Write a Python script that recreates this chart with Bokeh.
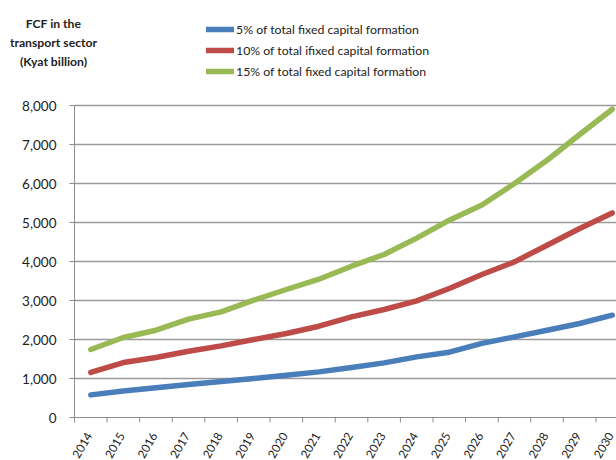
from bokeh.plotting import figure
from bokeh.models import Range1d, Legend, LegendItem, Label, ColumnDataSource
from bokeh.core.properties import value
from bokeh.embed import file_html
from bokeh.resources import INLINE
import math

# Fixed capital formation in the transport sector, Kyat billion
years = ["2014", "2015", "2016", "2017", "2018", "2019", "2020", "2021", "2022",
         "2023", "2024", "2025", "2026", "2027", "2028", "2029", "2030"]
share_5 = [580, 682, 760, 846, 925, 1000, 1085, 1170, 1282, 1400, 1554, 1674,
           1900, 2067, 2238, 2410, 2623]
share_10 = [1154, 1410, 1538, 1700, 1836, 2000, 2154, 2341, 2580, 2769, 2991,
            3308, 3667, 3990, 4418, 4846, 5246]
share_15 = [1743, 2051, 2238, 2521, 2708, 3008, 3282, 3546, 3880, 4180, 4600,
            5060, 5450, 6000, 6597, 7256, 7905]
series_names = ["5% of total fixed capital formation",
                "10% of total ifixed capital formation",
                "15% of total fixed capital formation"]
y_ticks = [0, 1000, 2000, 3000, 4000, 5000, 6000, 7000, 8000]
title_lines = ["FCF in the", "transport sector", "(Kyat billion)"]

colors = ["#4A7EBB", "#BE4B48", "#98B954"]
FONT = "Lato"
GRAY = "#8C8C8C"
TEXT = "#222222"

xs = list(range(len(years)))
X0 = -0.5                # left edge of the plotting area (data units)
X1 = 16.13               # right edge visible in the canvas
PX = 1 / 32.6            # one pixel in x data units
PY = 1000 / 39.0         # one pixel in y data units
Y_TOP = 8000

# The frame spans the whole canvas; both axes, their ticks and the grid are
# drawn as glyphs so the title, legend and tick labels share one frame.
p = figure(width=616, height=460, output_backend="svg", toolbar_location=None,
           x_range=Range1d(X0 - 74 * PX, X1), y_range=Range1d(-43 * PY, 417 * PY),
           min_border_left=0, min_border_right=0, min_border_top=0,
           min_border_bottom=0, x_axis_type=None, y_axis_type=None)
p.outline_line_color = None
p.background_fill_color = "white"
p.xgrid.grid_line_color = None
p.ygrid.grid_line_color = None

# horizontal grid lines
grid_y = y_ticks[1:]
p.segment(x0=[X0] * len(grid_y), x1=[X1 + 1] * len(grid_y), y0=grid_y, y1=grid_y,
          line_color="#9A9A9A", line_width=1.3)

# value axis: line, outward ticks and labels
p.segment(x0=[X0], x1=[X0], y0=[0], y1=[Y_TOP], line_color=GRAY, line_width=1)
p.segment(x0=[X0 - 5 * PX] * len(y_ticks), x1=[X0] * len(y_ticks),
          y0=y_ticks, y1=y_ticks, line_color=GRAY, line_width=1)
ysrc = ColumnDataSource(dict(x=[X0 - 18 * PX] * len(y_ticks), y=y_ticks,
                             t=[f"{v:,}" for v in y_ticks]))
p.text(x="x", y="y", text="t", source=ysrc, text_align="right",
       text_baseline="middle", text_font=value(FONT), text_font_size="13.5px",
       text_color=TEXT)

# category axis: line, tick marks on category boundaries, slanted labels
bounds = [i - 0.5 for i in range(len(years) + 1)]
p.segment(x0=[X0], x1=[X1 + 1], y0=[0], y1=[0], line_color=GRAY, line_width=1)
p.segment(x0=bounds, x1=bounds, y0=[0] * len(bounds), y1=[-5 * PY] * len(bounds),
          line_color=GRAY, line_width=1)
xsrc = ColumnDataSource(dict(x=[i - 1.5 * PX for i in xs], y=[-16 * PY] * len(xs),
                             t=years))
p.text(x="x", y="y", text="t", source=xsrc, angle=math.pi / 3,
       text_align="right", text_baseline="middle", text_font=value(FONT),
       text_font_size="11.8px", text_color=TEXT)

renderers = []
for vals, col in zip([share_5, share_10, share_15], colors):
    r = p.line(xs, vals, line_color=col, line_width=5.5, line_cap="round",
               line_join="round")
    renderers.append(r)

legend = Legend(items=[LegendItem(label=n, renderers=[r])
                       for n, r in zip(series_names, renderers)],
                location=(206, 379), orientation="vertical")
legend.border_line_color = None
legend.background_fill_alpha = 0
legend.padding = 0
legend.margin = 0
legend.spacing = 1
legend.glyph_width = 28
legend.glyph_height = 20
legend.label_height = 20
legend.label_standoff = 2
legend.label_text_font = FONT
legend.label_text_font_size = "12.3px"
legend.label_text_color = TEXT
legend.label_text_baseline = "middle"
p.add_layout(legend, "center")

# value-axis title in the top-left corner
title_px = [22.7, 41.7, 60.5]
for t, ty in zip(title_lines, title_px):
    p.add_layout(Label(x=X0 - 21 * PX, y=(417 - ty) * PY, text=t,
                       text_align="center", text_baseline="middle",
                       text_font=FONT, text_font_style="bold",
                       text_font_size="12.2px", text_color=TEXT))

open("out.html", "w").write(file_html(p, INLINE))
